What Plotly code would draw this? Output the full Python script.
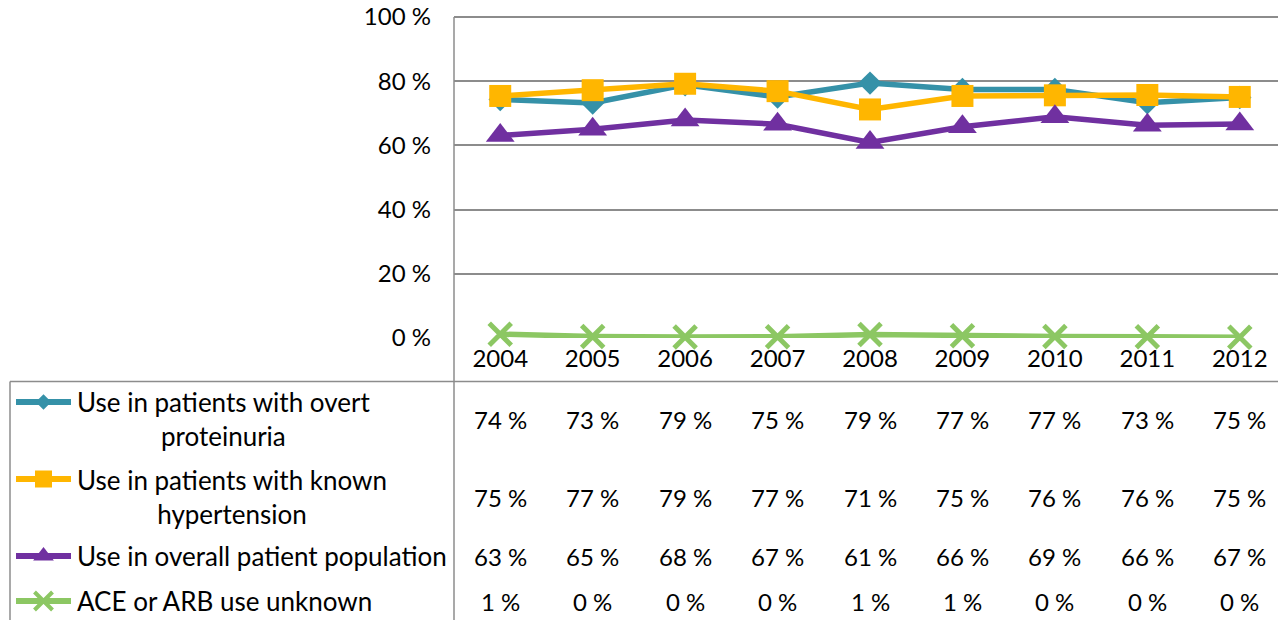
import plotly.graph_objects as go

W, H = 1286, 620
OFF = 8  # page body margin the figure sits inside

years = ['2004', '2005', '2006', '2007', '2008', '2009', '2010', '2011', '2012']

# values as plotted (table shows them rounded)
overt_proteinuria = [74.3, 73.2, 78.9, 75.1, 79.4, 77.4, 77.4, 73.3, 74.9]
known_hypertension = [75.4, 77.2, 79.2, 76.9, 71.2, 75.4, 75.6, 75.7, 75.1]
overall_population = [63.1, 65.0, 67.9, 66.6, 60.9, 65.8, 68.9, 66.3, 66.7]
use_unknown = [1.2, 0.5, 0.3, 0.4, 1.1, 0.7, 0.5, 0.4, 0.2]

y_ticks = [0, 20, 40, 60, 80, 100]

series_names = [
    'Use in patients with overt<br>proteinuria',
    'Use in patients with known<br>hypertension',
    'Use in overall patient population',
    'ACE or ARB use unknown',
]
series_values = [overt_proteinuria, known_hypertension, overall_population, use_unknown]
colors = ['#3591A8', '#FFB600', '#7030A0', '#8CC763']
symbols = ['diamond', 'square', 'triangle-up', 'x-thin']
sizes = [18, 22, 25, 22]
key_sizes = [12, 17, 18, 18]

FONT = 'Lato, Calibri, Arial, sans-serif'
GRID = '#8c8c8c'

# target positions in screen pixels
plot_left, plot_right, plot_top, plot_bottom = 454, 1286, 17, 338
y_max = 100.6  # a little headroom so the 100 % gridline is kept
top_px = plot_bottom - (plot_bottom - plot_top) * y_max / 100
table_top, table_left = 381.5, 10
row_y = [419, 497, 556, 601]
key_y = [402, 479, 556, 601]

fig = go.Figure()

for vals, name, col, sym, sz in zip(series_values, series_names, colors, symbols, sizes):
    marker = dict(symbol=sym, size=sz, color=col)
    if sym == 'x-thin':
        marker['line'] = dict(color=col, width=5)
    fig.add_trace(go.Scatter(x=list(range(len(years))), y=vals, mode='lines+markers',
                             name=name.replace('<br>', ' '),
                             line=dict(color=col, width=5.5), marker=marker,
                             cliponaxis=False, showlegend=False))

# legend keys inside the data table (second subplot in screen pixels)
for ky, col, sym, sz in zip(key_y, colors, symbols, key_sizes):
    marker = dict(symbol=sym, size=sz, color=col)
    if sym == 'x-thin':
        marker['line'] = dict(color=col, width=4)
    fig.add_trace(go.Scatter(x=[16, 43.5, 71], y=[ky, ky, ky], xaxis='x2', yaxis='y2',
                             mode='lines', line=dict(color=col, width=6),
                             showlegend=False, hoverinfo='skip'))
    fig.add_trace(go.Scatter(x=[43.5], y=[ky], xaxis='x2', yaxis='y2',
                             mode='markers', marker=marker,
                             showlegend=False, hoverinfo='skip'))

annotations = []
# row labels
for name, ry in zip(series_names, row_y):
    annotations.append(dict(x=75, y=ry, xref='x2', yref='y2', text=name, align='center',
                            xanchor='left', yanchor='middle', showarrow=False))
# table values
for vals, ry in zip(series_values, row_y):
    for i, v in enumerate(vals):
        annotations.append(dict(x=i, y=ry, xref='x', yref='y2', text=f'{round(v)} %',
                                font=dict(size=24),
                                xanchor='center', yanchor='middle', showarrow=False))

shapes = [
    dict(type='line', xref='x2', yref='y2', x0=plot_left, x1=plot_left, y0=plot_top, y1=H + OFF,
         line=dict(color=GRID, width=1.5)),
    dict(type='line', xref='x2', yref='y2', x0=table_left, x1=W + OFF, y0=table_top, y1=table_top,
         line=dict(color=GRID, width=1.5)),
    dict(type='line', xref='x2', yref='y2', x0=table_left, x1=table_left, y0=table_top, y1=H + OFF,
         line=dict(color=GRID, width=1.5)),
]

fig.update_layout(
    template='none',
    width=W, height=H,
    margin=dict(l=0, r=0, t=0, b=0, autoexpand=False),
    paper_bgcolor='white', plot_bgcolor='rgba(0,0,0,0)',
    font=dict(family=FONT, size=26, color='black'),
    xaxis=dict(domain=[(plot_left - OFF) / W, (plot_right - OFF) / W],
               range=[-0.5, len(years) - 0.5],
               tickvals=list(range(len(years))), ticktext=years,
               showgrid=False, zeroline=False, showline=False, ticks='',
               tickfont=dict(size=24), ticklabelstandoff=4, automargin=False, anchor='y'),
    yaxis=dict(domain=[1 - (plot_bottom - OFF) / H, 1 - (top_px - OFF) / H], range=[0, y_max],
               tickvals=y_ticks, ticktext=[f'{t} %' for t in y_ticks],
               tickfont=dict(size=24), ticklabeloverflow='allow',
               showgrid=True, gridcolor=GRID, gridwidth=1.5, zeroline=False,
               showline=False, ticks='', ticklabelstandoff=22, automargin=False, anchor='x'),
    xaxis2=dict(domain=[0, 1], range=[OFF, W + OFF], visible=False, anchor='y2'),
    yaxis2=dict(domain=[0, 1], range=[H + OFF, OFF], visible=False, anchor='x2'),
    annotations=annotations,
    shapes=shapes,
)

fig.write_html("out.html")
